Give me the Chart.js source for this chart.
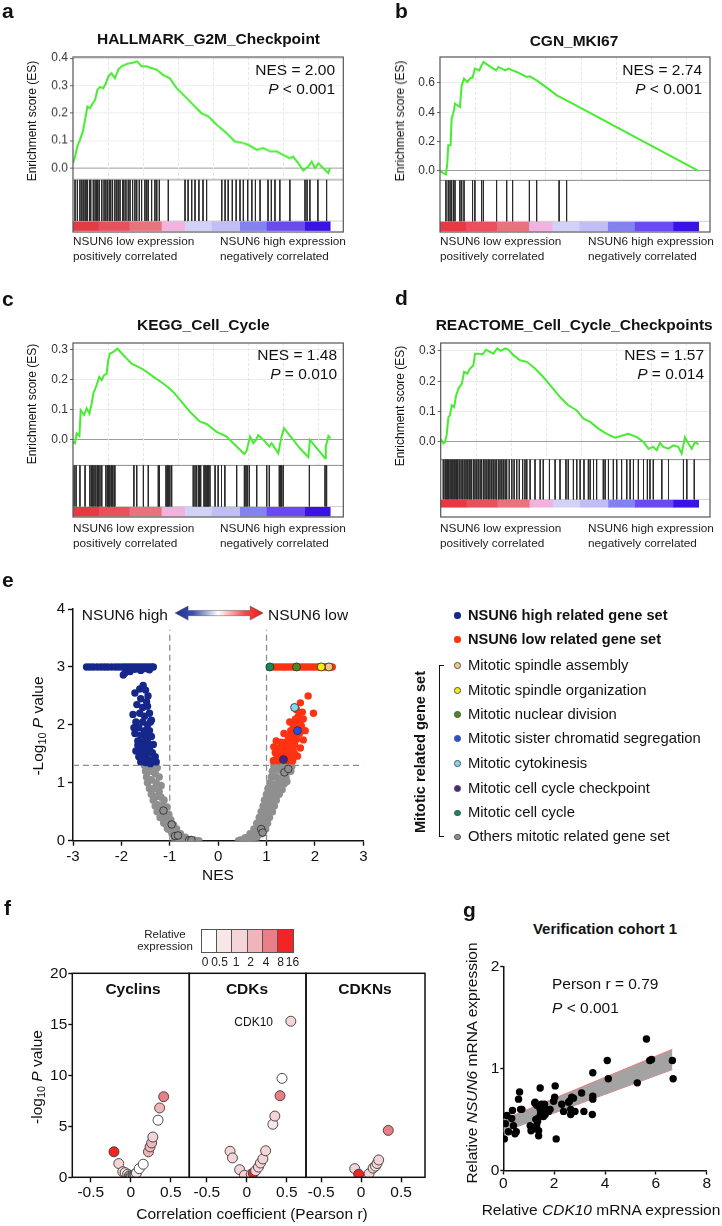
<!DOCTYPE html>
<html>
<head>
<meta charset="utf-8">
<script src="https://cdn.jsdelivr.net/npm/chart.js@4.4.0/dist/chart.umd.min.js"></script>
<style>
  body { margin: 0; width: 722px; height: 1226px; position: relative; overflow: hidden; background: #fff;
         font-family: 'Liberation Sans', Arial, Helvetica, sans-serif; color: #111; }
  canvas { position: absolute; }
  .t { position: absolute; line-height: 1; white-space: nowrap; }
  .sub { font-size: 0.7em; position: relative; top: 0.3em; }
</style>
</head>
<body>
<script>
// ---------- GSEA data (rank in % of gene list, running enrichment score) ----------
const esRankA = [0,0.8,1.7,2.7,3.8,4.7,5.6,6.6,7.7,8.6,9.5,10.5,11.8,12.8,13.7,15,16.3,17.6,18.9,20.9,23.5,25,26.7,28.7,30.6,32.6,35.1,37.7,40.3,43.6,46.8,50,52.7,55.9,59.8,63,66.3,68.2,71.5,74.1,76.7,79.2,81.8,84.4,85.7,87.7,89.6,91.6,92.9,94.2,95.5,97.4,99.4,100];
const esA = [0.018,0.042,0.079,0.103,0.133,0.176,0.224,0.218,0.236,0.248,0.285,0.295,0.291,0.309,0.333,0.345,0.327,0.358,0.370,0.379,0.384,0.388,0.370,0.370,0.364,0.358,0.339,0.327,0.291,0.261,0.230,0.2,0.188,0.158,0.127,0.097,0.091,0.085,0.067,0.073,0.061,0.061,0.048,0.036,0.042,0.018,-0.008,0.006,0.024,0,0.018,0,-0.018,0];
const hitsA = [0.8,1.7,2.7,3.4,4.0,4.7,5.1,5.6,6.4,6.9,7.9,8.6,9.2,9.6,10.2,11.2,12.1,12.8,13.4,14.1,14.7,15.4,16.3,17.0,17.6,18.3,19.3,19.8,20.6,21.5,22.2,23.2,24.1,24.8,25.8,26.7,28.0,28.7,29.3,30.6,31.9,32.6,33.6,37.1,43.6,44.8,46.2,47.5,49.0,50.6,52.0,57.9,59.2,60.4,62.0,63.5,65.0,66.3,68.0,69.6,71.0,72.8,75.9,77.2,78.6,80.5,84.4,90.3,91.1,92.2,95.3,98.7];

const esRankB = [0,1.3,2.3,2.8,3.2,4.1,4.5,5.4,5.8,7.7,8.4,9.3,10.6,11.9,12.6,13.5,15.2,16.1,16.8,18.7,21.7,22.6,25.2,26.5,28.1,29.7,33.5,34.8,37.4,41.3,45.2,49,100];
const esB = [0,-0.014,-0.023,0.05,0.175,0.175,0.357,0.414,0.459,0.436,0.584,0.63,0.607,0.636,0.636,0.698,0.686,0.72,0.743,0.72,0.686,0.709,0.686,0.698,0.686,0.675,0.641,0.645,0.618,0.568,0.516,0.482,0];
const hitsB = [2.3,3.2,3.9,4.5,5.2,5.8,7.7,8.4,9.3,12.6,13.5,16.1,16.8,21.9,25.8,28.1,34.6,37.4,46.1,49.0];

const esRankC = [0,0.8,1.4,2.5,3.0,4.3,5.3,6.4,7.3,7.9,9.2,10.2,11.2,12.1,13.1,13.7,14.4,15.7,17.3,18.5,20.9,22.8,24.8,26.7,28.7,31.3,33.2,35.1,37.1,39.0,42.3,45.5,49.4,52.0,55.9,59.8,62.4,65.0,66.7,67.6,68.9,70.2,71.2,72.1,74.1,76.4,77.3,79.9,80.5,81.2,82.1,88.3,91.6,92.2,98.1,98.4,99.4,100.3];
const esC = [-0.008,-0.013,0.02,0.011,0.097,0.081,0.103,0.086,0.12,0.153,0.181,0.208,0.197,0.214,0.219,0.264,0.286,0.291,0.302,0.291,0.269,0.252,0.244,0.236,0.225,0.208,0.197,0.186,0.173,0.158,0.125,0.092,0.059,0.051,0.025,0.009,-0.013,-0.035,-0.049,-0.038,0.009,-0.013,-0.002,0.014,-0.002,-0.024,-0.013,-0.047,-0.019,0.009,0.037,-0.03,-0.06,-0.002,-0.063,-0.024,0.011,0.003];
const hitsC = [0.4,1.2,2.7,4.7,6.6,7.3,7.7,8.2,8.9,9.5,9.9,10.5,11.2,12.8,13.4,13.7,14.1,14.4,15.0,15.4,16.0,16.3,23.7,24.8,27.4,29.3,33.2,33.6,36.2,36.7,37.1,37.7,38.4,46.8,47.5,48.1,48.8,49.2,49.7,51.0,51.4,51.8,52.3,52.7,53.3,55.3,56.5,57.8,59.1,63.7,66.7,67.3,67.8,68.6,71.5,75.4,76.4,80.3,80.8,81.2,81.8,92.0,98.1,98.7];

const esRankD = [0,1.0,1.7,2.3,3.0,3.6,4.3,5.2,6.0,6.9,8.2,9.1,10.3,11.4,12.7,13.3,14.6,16.3,17.6,19.1,20.4,22,23.3,25,26.3,28.2,30.8,33.4,36.6,39.8,43.1,46.3,49.5,52.8,55.4,58,61.2,64.4,67.7,70.9,72.8,76.1,78.7,80.6,82.5,83.8,85.1,86.4,88.4,90.3,92.2,93.5,94.8,96.1,97.4,98.7,100];
const esD = [0.011,-0.005,0,0.022,0.082,0.088,0.121,0.115,0.154,0.176,0.192,0.231,0.225,0.242,0.253,0.291,0.291,0.289,0.304,0.297,0.291,0.308,0.3,0.308,0.304,0.286,0.269,0.264,0.242,0.214,0.181,0.148,0.121,0.104,0.077,0.066,0.044,0.027,0.014,0.022,0.027,0.016,0,-0.022,-0.016,-0.027,-0.003,-0.016,-0.022,-0.011,-0.016,-0.038,0.016,-0.005,-0.022,0,-0.008];
const hitsD = [1.0,1.7,2.1,2.6,3.0,3.6,4.1,4.7,5.2,5.6,6.2,6.6,7.2,7.9,8.5,9.1,9.8,10.3,11.0,11.4,12.0,12.7,13.3,14.0,14.6,15.3,15.9,16.6,17.2,17.9,18.5,19.1,19.8,20.4,21.1,21.7,22.4,23.0,23.7,24.3,25.0,25.6,26.6,27.6,28.5,29.5,30.5,31.8,32.7,33.4,34.7,36.6,38.6,39.8,42.2,44.4,46.3,48.6,49.5,51.5,52.8,54.1,55.6,57.3,58.0,59.3,60.5,63.1,63.8,65.1,67.0,68.3,70.2,72.2,73.5,74.8,76.7,78.7,80.2,81.2,82.5,85.8,88.4,94.2,95.5,98.4];

// ranked list colour bar (segment start/end in % of list)
const cbStart = [0,10,22,34.5,43.6,54,65,75.4,90.3];
const cbEnd   = [10,22,34.5,43.6,54,65,75.4,90.3,100];
const cbColor = ['#e53a42','#e9505b','#e9737c','#f2b2e0','#d2d2f9','#c1bef7','#8282f2','#6a4af0','#3a12e4'];

// ---------- volcano (NES, -log10 P) ----------
const volcanoHigh = [[-2.72,3],[-2.65,3],[-2.58,3],[-2.5,3],[-2.42,3],[-2.35,3],[-2.28,3],[-2.2,3],[-2.12,3],[-2.05,3],[-1.98,3],[-1.92,3],[-1.86,3],[-1.8,3],[-1.74,3],[-1.68,3],[-1.62,3],[-1.56,3],[-1.5,3],[-1.44,3],[-1.38,3],[-1.34,3],
  [-1.96,2.86],[-1.92,2.9],[-1.82,2.92],[-1.72,2.96],[-1.6,2.94],[-1.5,2.97],[-1.42,2.95],
  [-1.72,2.55],[-1.62,2.62],[-1.55,2.68],[-1.5,2.6],[-1.45,2.5],[-1.6,2.45],[-1.68,2.35],[-1.56,2.3],[-1.46,2.32],[-1.76,2.18],[-1.62,2.2],[-1.52,2.15],[-1.42,2.2],[-1.7,2.05],[-1.56,2.05],[-1.46,2.0],[-1.38,2.08],[-1.64,1.95],[-1.52,1.9],[-1.42,1.9],[-1.72,1.85],[-1.6,1.82],[-1.5,1.8],[-1.38,1.8],[-1.66,1.72],[-1.56,1.7],[-1.46,1.7],[-1.34,1.66],[-1.62,1.6],[-1.52,1.62],[-1.42,1.58],[-1.7,1.55],[-1.58,1.5],[-1.48,1.5],[-1.36,1.52],[-1.64,1.45],[-1.52,1.42],[-1.42,1.4],[-1.3,1.45],[-1.6,1.36],[-1.5,1.35],[-1.4,1.33],[-1.28,1.36],[-1.48,2.4],[-1.4,2.05],[-1.66,1.65],[-1.54,1.56],[-1.44,1.62],[-1.34,1.4],[-1.74,1.95],[-1.48,1.75],[-1.58,1.42]];
const volcanoLow = [[1.16,3],[1.22,3],[1.28,3],[1.34,3],[1.4,3],[1.46,3],[1.52,3],[1.58,3],[1.7,3],[1.76,3],[1.82,3],[1.88,3],[1.94,3],[2.0,3],[2.06,3],[2.1,3],[2.18,3],[2.22,3],[2.26,3],[2.32,3],[2.36,3],
  [1.86,2.5],[1.97,2.2],[1.7,2.38],[1.62,2.26],[1.66,2.15],[1.74,2.22],[1.6,2.1],[1.68,2.04],[1.76,2.1],[1.55,2.0],[1.65,1.95],[1.72,1.98],[1.5,1.9],[1.58,1.86],[1.68,1.85],[1.45,1.8],[1.55,1.78],[1.62,1.75],[1.2,1.72],[1.3,1.7],[1.4,1.7],[1.5,1.68],[1.58,1.66],[1.15,1.62],[1.25,1.6],[1.35,1.62],[1.45,1.6],[1.55,1.58],[1.18,1.52],[1.28,1.55],[1.38,1.52],[1.48,1.5],[1.58,1.5],[1.22,1.45],[1.32,1.45],[1.42,1.46],[1.52,1.42],[1.14,1.38],[1.24,1.38],[1.44,1.38],[1.54,1.38],[1.64,1.46],[1.7,1.6],[1.76,1.74],[1.8,1.9],[1.36,1.85],[1.48,2.05]];
const volcanoNS = [[-1.52,1.3],[-1.42,1.3],[-1.32,1.3],[-1.26,1.26],[-1.5,1.2],[-1.4,1.2],[-1.3,1.16],[-1.22,1.1],[-1.48,1.1],[-1.38,1.05],[-1.28,1.0],[-1.18,0.95],[-1.46,1.0],[-1.42,0.9],[-1.32,0.9],[-1.22,0.85],[-1.38,0.8],[-1.28,0.76],[-1.18,0.75],[-1.12,0.7],[-1.34,0.7],[-1.25,0.62],[-1.15,0.6],[-1.06,0.58],[-1.3,0.6],[-1.22,0.52],[-1.12,0.48],[-1.02,0.45],[-1.26,0.5],[-1.18,0.42],[-1.08,0.38],[-0.98,0.36],[-1.2,0.4],[-1.12,0.32],[-1.02,0.28],[-0.92,0.27],[-1.12,0.3],[-1.05,0.22],[-0.95,0.2],[-0.86,0.2],[-1.04,0.2],[-0.96,0.15],[-0.88,0.13],[-0.78,0.12],[-0.95,0.12],[-0.86,0.08],[-0.76,0.06],[-0.68,0.06],[-0.84,0.06],[-0.74,0.03],[-0.64,0.02],[-0.56,0.02],[-0.5,0.01],[-0.44,0.0],[-0.4,0.0],[-0.6,0.01],[-0.7,0.01],[-0.8,0.02],[-0.9,0.04],
  [1.15,1.3],[1.25,1.32],[1.35,1.3],[1.45,1.3],[1.52,1.28],[1.12,1.2],[1.22,1.22],[1.32,1.2],[1.42,1.18],[1.5,1.2],[1.1,1.1],[1.2,1.1],[1.3,1.08],[1.4,1.1],[1.07,1.0],[1.16,0.98],[1.26,1.0],[1.36,0.98],[1.42,1.02],[1.03,0.9],[1.12,0.88],[1.22,0.9],[1.32,0.88],[1.0,0.8],[1.08,0.78],[1.18,0.78],[1.26,0.8],[0.96,0.7],[1.04,0.68],[1.14,0.68],[1.2,0.7],[0.93,0.6],[1.0,0.58],[1.1,0.58],[1.16,0.6],[0.89,0.5],[0.96,0.48],[1.05,0.48],[1.12,0.5],[0.85,0.4],[0.92,0.38],[1.0,0.38],[1.06,0.4],[0.8,0.3],[0.88,0.28],[0.96,0.28],[1.02,0.3],[0.74,0.2],[0.82,0.18],[0.9,0.18],[0.98,0.2],[0.66,0.12],[0.74,0.1],[0.82,0.1],[0.9,0.12],[0.56,0.05],[0.64,0.04],[0.72,0.04],[0.8,0.06],[0.46,0.01],[0.52,0.01],[0.6,0.01],[0.68,0.02],[0.42,0.0]];
const volcanoOthers = [[-1.13,0.52],[-0.96,0.28],[-0.89,0.08],[-0.83,0.09],[-0.6,0.01],[-0.55,0.01],[0.89,0.2],[0.92,0.14],[1.37,1.18],[1.45,1.24]];
const mitoticSets = ['Mitotic spindle assembly','Mitotic spindle organization','Mitotic nuclear division','Mitotic sister chromatid segregation','Mitotic cytokinesis','Mitotic cell cycle checkpoint','Mitotic cell cycle'];
const mitoticNES  = [2.29, 2.13, 1.62, 1.64, 1.58, 1.35, 1.07];
const mitoticLogP = [3.0, 3.0, 3.0, 1.9, 2.3, 1.4, 3.0];
const nesCut = [-1, 1];
const logPCut = 1.3;

// ---------- cyclins / CDKs / CDKNs (Pearson r, -log10 P, expression bin) ----------
const exprBins = ['0','0.5','1','2','4','8','16'];
const cycR = [-0.21,-0.15,-0.1,-0.07,-0.04,-0.02,-0.01,0.0,0.01,0.03,0.04,0.055,0.07,0.105,0.155,0.22,0.24,0.26,0.275,0.36,0.34,0.41];
const cycP = [2.5,1.35,0.55,0.45,0.3,0.15,0.1,0.02,0.05,0.2,0.12,0.3,0.42,0.85,1.28,2.5,2.98,3.37,3.95,6.8,5.6,7.9];
const cycE = [5,2,2,1,1,1,0,1,1,2,1,1,1,0,0,3,3,3,2,3,0,4];
const cdkR = [-0.21,-0.18,-0.09,-0.03,0.055,0.08,0.11,0.145,0.17,0.2,0.235,0.325,0.35,0.415,0.44,0.55];
const cdkP = [2.55,1.9,0.75,0.2,0.3,0.4,0.65,1.0,1.4,1.8,2.6,5.2,6.0,8.0,9.7,15.3];
const cdkE = [2,2,2,2,2,5,2,2,2,2,2,1,2,4,0,2];
const cdknR = [-0.08,-0.03,0.1,0.15,0.18,0.2,0.22,0.34];
const cdknP = [0.85,0.3,0.35,0.9,1.1,1.35,1.7,4.6];
const cdknE = [2,5,2,2,1,2,2,4];

// ---------- verification cohort (relative CDK10, relative NSUN6) ----------
const cohortPts = [[0.04,0.31],[0.08,0.46],[0.14,0.54],[0.2,0.38],[0.33,0.51],[0.36,0.59],[0.4,0.44],[0.51,0.38],[0.46,0.36],[0.6,0.70],[0.64,0.77],[0.73,0.6],[0.68,0.6],[1.06,0.44],[1.09,0.39],[1.19,0.41],[1.25,0.67],[1.24,0.66],[1.28,0.5],[1.31,0.44],[1.32,0.64],[1.35,0.48],[1.36,0.51],[1.39,0.34],[1.39,0.39],[1.45,0.81],[1.45,0.6],[1.5,0.65],[1.46,0.55],[1.52,0.64],[1.56,0.58],[1.58,0.53],[1.62,0.65],[1.65,0.55],[1.71,0.6],[1.78,0.58],[1.84,0.6],[2.04,0.83],[1.98,0.68],[2.02,0.72],[2.08,0.31],[2.3,0.65],[2.37,0.58],[2.57,0.67],[2.6,0.68],[2.65,0.6],[2.65,0.55],[2.69,0.72],[2.76,0.71],[2.82,0.58],[3.08,0.76],[3.17,0.58],[3.52,0.96],[3.52,0.73],[3.52,0.7],[3.5,0.55],[4.09,1.08],[4.13,0.9],[5.27,0.86],[5.63,1.29],[5.76,1.08],[5.83,1.09],[6.65,1.08],[6.68,0.9]];
const bandX = [0, 6.65];
const bandUpper = [0.50, 1.19];
const bandLower = [0.38, 0.99];

// ---------- styles ----------
const exprColors = ['#ffffff','#f9e7e7','#f5d4d7','#f0b5bb','#eb7d86','#f42424'];
const mitoticColors = ['#f5c77e','#f2ee10','#4c8a1e','#1f4fe6','#86d3f0','#4b2183','#138a58'];
const HIGH = '#15278b', LOW = '#ff3212', NS = '#8f8f8f';
const gseaGridX = [13.6, 27.2, 40.8, 54.4, 68, 81.6, 95.2];

// ---------- helpers ----------
function mkCanvas(x, y, w, h) {
  const c = document.createElement('canvas');
  c.width = w; c.height = h;
  c.style.left = x + 'px'; c.style.top = y + 'px';
  c.style.width = w + 'px'; c.style.height = h + 'px';
  document.body.appendChild(c);
  return c;
}
function txt(html, x, base, size, o = {}) {
  const d = document.createElement('div');
  d.className = 't';
  d.innerHTML = html;
  d.style.fontSize = size + 'px';
  if (o.bold) d.style.fontWeight = 'bold';
  if (o.color) d.style.color = o.color;
  d.style.left = x + 'px';
  d.style.top = (base - 0.8465 * size) + 'px';
  if (o.align === 'center') d.style.transform = 'translateX(-50%)';
  if (o.align === 'right') d.style.transform = 'translateX(-100%)';
  document.body.appendChild(d);
  return d;
}
function vtxt(html, cx, cy, size, o = {}) {
  const d = document.createElement('div');
  d.className = 't';
  d.innerHTML = html;
  d.style.fontSize = size + 'px';
  if (o.bold) d.style.fontWeight = 'bold';
  d.style.left = cx + 'px'; d.style.top = cy + 'px';
  d.style.transform = 'translate(-50%,-50%) rotate(-90deg)';
  document.body.appendChild(d);
}
function box(x, y, w, h, css) {
  const d = document.createElement('div');
  d.style.position = 'absolute';
  d.style.left = x + 'px'; d.style.top = y + 'px';
  d.style.width = w + 'px'; d.style.height = h + 'px';
  d.style.boxSizing = 'border-box';
  Object.assign(d.style, css);
  document.body.appendChild(d);
}
// canvas rect cv = [x,y,w,h], chart area = [l,t,r,b] in page pixels
function fixed(cv, area) {
  return {
    yW: area[0] - cv[0],
    xH: cv[1] + cv[3] - area[3],
    padL: area[0] - cv[0],
    padT: area[1] - cv[1],
    padR: cv[0] + cv[2] - area[2],
    padB: cv[1] + cv[3] - area[3]
  };
}
const ticksAt = vals => axis => { axis.ticks = vals.map(v => ({ value: v })); };
const base = { responsive: false, animation: false, devicePixelRatio: 1, events: [] };
const noLegend = { legend: { display: false }, tooltip: { enabled: false } };

function gpAxis(min, max, vals, size, fit, tickLen, pad) {
  return {
    min, max, afterBuildTicks: ticksAt(vals), afterFit: fit,
    ticks: { font: { size }, color: '#111', padding: pad, autoSkip: false, maxRotation: 0, callback: v => String(v) },
    grid: { drawOnChartArea: false, drawTicks: true, tickLength: tickLen, tickWidth: 1.4, tickColor: '#111' },
    border: { display: true, color: '#111', width: 1.5 }
  };
}

const boxFrame = {
  id: 'boxFrame',
  afterDraw(chart, args, o) {
    const { ctx, chartArea: a } = chart;
    ctx.save();
    ctx.strokeStyle = o.color || '#111';
    ctx.lineWidth = o.width || 1.5;
    ctx.strokeRect(a.left, a.top, a.width, a.height);
    ctx.restore();
  }
};

const gseaDecor = {
  id: 'gseaDecor',
  beforeDatasetsDraw(chart, args, o) {
    const { ctx, chartArea: a, scales: { x, y } } = chart;
    const yb = y.getPixelForValue(o.esBottom);
    const yt = y.getPixelForValue(o.cbTop);
    const yc = y.getPixelForValue(o.cbBot);
    ctx.save();
    ctx.lineWidth = 1;
    ctx.strokeStyle = '#e6e6e6';
    ctx.setLineDash([3, 2]);
    gseaGridX.forEach(v => {
      const px = Math.round(x.getPixelForValue(v)) + 0.5;
      ctx.beginPath(); ctx.moveTo(px, a.top); ctx.lineTo(px, yb); ctx.stroke();
    });
    ctx.setLineDash([]);
    cbStart.forEach((s, i) => {
      const x0 = x.getPixelForValue(s), x1 = x.getPixelForValue(cbEnd[i]);
      ctx.fillStyle = cbColor[i];
      ctx.fillRect(x0, yt, x1 - x0 + 0.6, yc - yt);
    });
    ctx.strokeStyle = '#8a8a8a';
    ctx.beginPath(); ctx.moveTo(a.left, yb); ctx.lineTo(a.right, yb); ctx.stroke();
    ctx.strokeStyle = '#d0d0d0';
    ctx.beginPath(); ctx.moveTo(a.left, yt); ctx.lineTo(a.right, yt); ctx.stroke();
    ctx.restore();
  }
};

const nesArrow = {
  id: 'nesArrow',
  afterDatasetsDraw(chart, args, o) {
    const { ctx, scales: { x, y } } = chart;
    const x0 = x.getPixelForValue(o.from), x1 = x.getPixelForValue(o.to);
    const xm = x.getPixelForValue(0), yc = y.getPixelForValue(o.at);
    const hl = 13, hh = 7, sh = 2.6;
    const g = ctx.createLinearGradient(x0, 0, x1, 0);
    g.addColorStop(0, '#1b2f95');
    g.addColorStop(0.2, '#3a4fae');
    g.addColorStop((xm - x0) / (x1 - x0), '#ffffff');
    g.addColorStop(0.8, '#f24848');
    g.addColorStop(1, '#f01818');
    ctx.save();
    ctx.beginPath();
    ctx.moveTo(x0, yc); ctx.lineTo(x0 + hl, yc - hh); ctx.lineTo(x0 + hl, yc - sh);
    ctx.lineTo(x1 - hl, yc - sh); ctx.lineTo(x1 - hl, yc - hh); ctx.lineTo(x1, yc);
    ctx.lineTo(x1 - hl, yc + hh); ctx.lineTo(x1 - hl, yc + sh); ctx.lineTo(x0 + hl, yc + sh);
    ctx.lineTo(x0 + hl, yc + hh); ctx.closePath();
    ctx.fillStyle = g; ctx.fill();
    ctx.strokeStyle = 'rgba(70,70,70,0.55)'; ctx.lineWidth = 0.8; ctx.stroke();
    ctx.restore();
  }
};

// ---------- panels a-d: GSEA ----------
const gseaPanels = [
  { rank: esRankA, es: esA, hits: hitsA, cx: 0, area: [73, 57.3, 343.3, 231.7], yMin: -0.232, yMax: 0.404, xMax: 105.2,
    ticks: [0, 0.1, 0.2, 0.3, 0.4], esBottom: -0.042, cbTop: -0.192, cbBot: -0.228,
    title: 'HALLMARK_G2M_Checkpoint', tX: 208.5, tB: 44.5, nes: 'NES = 2.00', p: '<i>P</i> &lt; 0.001', nR: 335, nB: 75.5,
    lL: 73, lR: 220, lB: 246, yt: [32, 121] },
  { rank: esRankB, es: esB, hits: hitsB, cx: 360, area: [440, 56.7, 710, 231.7], yMin: -0.416, yMax: 0.777, xMax: 104.5,
    ticks: [0, 0.2, 0.4, 0.6], esBottom: -0.064, cbTop: -0.343, cbBot: -0.411,
    title: 'CGN_MKI67', tX: 574, tB: 46, nes: 'NES = 2.74', p: '<i>P</i> &lt; 0.001', nR: 702, nB: 75.5,
    lL: 440, lR: 588, lB: 246, yt: [400, 121] },
  { rank: esRankC, es: esC, hits: hitsC, cx: 0, area: [73, 342.7, 343.3, 517.3], yMin: -0.259, yMax: 0.321, xMax: 105.2,
    ticks: [0, 0.1, 0.2, 0.3], esBottom: -0.087, cbTop: -0.224, cbBot: -0.257,
    title: 'KEGG_Cell_Cycle', tX: 203.3, tB: 330, nes: 'NES = 1.48', p: '<i>P</i> = 0.010', nR: 337, nB: 360.5,
    lL: 73, lR: 220, lB: 533, yt: [32, 404] },
  { rank: esRankD, es: esD, hits: hitsD, cx: 360, area: [440.7, 342.7, 710, 516.7], yMin: -0.247, yMax: 0.326, xMax: 104.5,
    ticks: [0, 0.1, 0.2, 0.3], esBottom: -0.058, cbTop: -0.189, cbBot: -0.216,
    title: 'REACTOME_Cell_Cycle_Checkpoints', tX: 574.2, tB: 330.5, nes: 'NES = 1.57', p: '<i>P</i> = 0.014', nR: 704, nB: 360.5,
    lL: 440, lR: 588, lB: 533, yt: [400, 406] }
];

gseaPanels.forEach(p => {
  const cv = [p.cx, p.area[1] - 12, 360, p.area[3] - p.area[1] + 24];
  const f = fixed(cv, p.area);
  const hitLines = [];
  p.hits.forEach(h => { hitLines.push({ x: h, y: p.esBottom }, { x: h, y: p.cbTop }, { x: h, y: null }); });
  new Chart(mkCanvas(...cv), {
    type: 'scatter',
    data: {
      datasets: [
        { data: p.rank.map((r, i) => ({ x: r, y: p.es[i] })), showLine: true, borderColor: '#46ec30', borderWidth: 2,
          pointRadius: 0, order: 0 },
        { data: hitLines, showLine: true, spanGaps: false, borderColor: '#2a2a2a', borderWidth: 1, pointRadius: 0, order: 1 }
      ]
    },
    options: {
      ...base,
      layout: { padding: { left: 0, top: f.padT, right: f.padR, bottom: f.padB } },
      scales: {
        x: { display: false, min: 0, max: p.xMax },
        y: {
          min: p.yMin, max: p.yMax, afterBuildTicks: ticksAt(p.ticks), afterFit: s => { s.width = f.yW; },
          ticks: { font: { size: 12 }, color: '#333', padding: 2, autoSkip: false, callback: v => Number(v).toFixed(1) },
          grid: { color: c => (c.tick && c.tick.value === 0) ? '#9c9c9c' : '#ececec', tickLength: 3, tickColor: '#666' },
          border: { display: false }
        }
      },
      plugins: { ...noLegend, gseaDecor: { esBottom: p.esBottom, cbTop: p.cbTop, cbBot: p.cbBot },
                 boxFrame: { color: '#555', width: 1.2 } }
    },
    plugins: [gseaDecor, boxFrame]
  });
  txt(p.title, p.tX, p.tB, 15.5, { bold: true, align: 'center' });
  txt(p.nes, p.nR, p.nB, 15.5, { align: 'right' });
  txt(p.p, p.nR, p.nB + 18.5, 15.5, { align: 'right' });
  txt('NSUN6 low expression', p.lL, p.lB, 11.8, { color: '#222' });
  txt('positively correlated', p.lL, p.lB + 14.5, 11.8, { color: '#222' });
  txt('NSUN6 high expression', p.lR, p.lB, 11.8, { color: '#222' });
  txt('negatively correlated', p.lR, p.lB + 14.5, 11.8, { color: '#222' });
  vtxt('Enrichment score (ES)', p.yt[0], p.yt[1], 12);
});

// ---------- panel e: volcano ----------
(function () {
  const area = [73, 609, 363.3, 840.7];
  const cv = [0, 596, 378, 272];
  const f = fixed(cv, area);
  const pts = arr => arr.map(([x, y]) => ({ x, y }));
  const cutLines = nesCut.map(v => ({ data: [{ x: v, y: 0 }, { x: v, y: 3.64 }], showLine: true, pointRadius: 0,
    borderColor: '#8c8c8c', borderWidth: 1.3, borderDash: [6, 4], order: 9 }));
  new Chart(mkCanvas(...cv), {
    type: 'scatter',
    data: {
      datasets: [
        ...cutLines,
        { data: [{ x: -3, y: logPCut }, { x: 3, y: logPCut }], showLine: true, pointRadius: 0,
          borderColor: '#8c8c8c', borderWidth: 1.3, borderDash: [6, 4], order: 9 },
        { data: pts(volcanoNS), pointRadius: 3.8, pointBackgroundColor: NS, pointBorderWidth: 0, order: 6 },
        { data: pts(volcanoOthers), pointRadius: 3.8, pointBackgroundColor: NS, pointBorderColor: '#333', pointBorderWidth: 0.9, order: 5 },
        { data: pts(volcanoHigh), pointRadius: 3.7, pointBackgroundColor: HIGH, pointBorderWidth: 0, order: 4 },
        { data: pts(volcanoLow), pointRadius: 3.7, pointBackgroundColor: LOW, pointBorderWidth: 0, order: 4 },
        { data: mitoticNES.map((v, i) => ({ x: v, y: mitoticLogP[i] })), pointRadius: 4, pointBackgroundColor: mitoticColors,
          pointBorderColor: '#333', pointBorderWidth: 0.9, order: 1 }
      ]
    },
    options: {
      ...base,
      layout: { padding: { left: 0, top: f.padT, right: f.padR, bottom: 0 } },
      scales: {
        x: gpAxis(-3, 3, [-3, -2, -1, 0, 1, 2, 3], 15, s => { s.height = f.xH; }, 5, 2),
        y: gpAxis(0, 4, [0, 1, 2, 3, 4], 15, s => { s.width = f.yW; }, 5, 3)
      },
      plugins: { ...noLegend, nesArrow: { from: -0.89, to: 0.93, at: 3.93 } }
    },
    plugins: [nesArrow]
  });
  txt('NSUN6 high', 168, 620, 15.5, { align: 'right' });
  txt('NSUN6 low', 268, 620, 15.5);
  txt('NES', 218, 880, 15.5, { align: 'center' });
  vtxt('-Log<span class="sub">10</span> <i>P</i> value', 38, 726, 15.5);

  // legend
  const rows = [615, 639.3, 665, 690, 714, 738, 763.3, 788.3, 812.7, 836.7];
  const names = ['NSUN6 high related gene set', 'NSUN6 low related gene set', ...mitoticSets, 'Others mitotic related gene set'];
  const dots = [HIGH, LOW, ...mitoticColors, NS];
  names.forEach((n, i) => {
    const bold = i < 2;
    box(454, rows[i] - 3, 6.5, 6.5, { borderRadius: '50%', background: dots[i],
      border: bold ? 'none' : '0.8px solid #555' });
    txt(n, 468, rows[i] + 5.3, bold ? 14.6 : 14.8, { bold });
  });
  box(439, 665, 5, 172, { borderLeft: '1.5px solid #111', borderTop: '1.5px solid #111', borderBottom: '1.5px solid #111' });
  vtxt('Mitotic related gene set', 420, 752, 14.6, { bold: true });
})();

// ---------- panel f: cyclins / CDKs / CDKNs ----------
(function () {
  const cv = [0, 962, 440, 246];
  const facets = [
    { r: cycR, p: cycP, e: cycE, area: [72.3, 973.3, 189.3, 1177.3], min: -0.73, max: 0.73, name: 'Cyclins', nx: 133 },
    { r: cdkR, p: cdkP, e: cdkE, area: [189.3, 973.3, 306, 1177.3], min: -0.72, max: 0.74, name: 'CDKs', nx: 247 },
    { r: cdknR, p: cdknP, e: cdknE, area: [306, 973.3, 425, 1177.3], min: -0.69, max: 0.8, name: 'CDKNs', nx: 365 }
  ];
  facets.forEach((fc, k) => {
    const f = fixed(cv, fc.area);
    const yAxis = k === 0
      ? gpAxis(0, 20, [0, 5, 10, 15, 20], 15.5, s => { s.width = f.yW; }, 4, 1)
      : { display: false, min: 0, max: 20 };
    const xAxis = gpAxis(fc.min, fc.max, [-0.5, 0, 0.5], 15.5, s => { s.height = f.xH; }, 5, 1);
    xAxis.border = { display: false };
    if (k === 0) yAxis.border = { display: false };
    new Chart(mkCanvas(...cv), {
      type: 'scatter',
      data: {
        datasets: [{ data: fc.r.map((v, i) => ({ x: v, y: fc.p[i] })), pointRadius: 5,
          pointBackgroundColor: fc.e.map(b => exprColors[b]), pointBorderColor: '#3a3a3a', pointBorderWidth: 0.9 }]
      },
      options: {
        ...base,
        layout: { padding: { left: k === 0 ? 0 : f.padL, top: f.padT, right: f.padR, bottom: 0 } },
        scales: { x: xAxis, y: yAxis },
        plugins: { ...noLegend, boxFrame: { color: '#111', width: 1.5 } }
      },
      plugins: [boxFrame]
    });
    txt(fc.name, fc.nx, 994, 15.5, { bold: true, align: 'center' });
  });
  txt('CDK10', 273, 1026, 12, { align: 'right' });
  vtxt('-log<span class="sub">10</span> <i>P</i> value', 37, 1077, 15.5);
  txt('Correlation coefficient (Pearson r)', 252, 1219.5, 15.5, { align: 'center' });

  // expression colour key
  txt('Relative', 165, 939, 11.5, { align: 'center', color: '#222' });
  txt('expression', 165, 951, 11.5, { align: 'center', color: '#222' });
  const w = (292.7 - 200.7) / exprColors.length;
  exprColors.forEach((c, i) => {
    box(200.7 + i * w, 929, w + 1, 23.5, { background: c, border: '1px solid #555' });
  });
  const keyX = [205, 219.5, 236, 250.5, 266, 280.5, 292.5];
  exprBins.forEach((b, i) => txt(b, keyX[i], 966.5, 12, { align: 'center', color: '#222' }));
})();

// ---------- panel g: verification cohort ----------
(function () {
  const area = [503.3, 966.7, 706.7, 1170.5];
  const cv = [476, 955, 244, 240];
  const f = fixed(cv, area);
  new Chart(mkCanvas(...cv), {
    type: 'scatter',
    data: {
      datasets: [
        { data: cohortPts.map(([x, y]) => ({ x, y })), pointRadius: 3.7, pointBackgroundColor: '#000', pointBorderWidth: 0, order: 0 },
        { data: bandX.map((x, i) => ({ x, y: bandUpper[i] })), showLine: true, pointRadius: 0, borderColor: '#f07a7a',
          borderWidth: 1, fill: '+1', backgroundColor: '#a3a3a3', order: 2 },
        { data: bandX.map((x, i) => ({ x, y: bandLower[i] })), showLine: true, pointRadius: 0, borderColor: '#f07a7a',
          borderWidth: 1, order: 2 }
      ]
    },
    options: {
      ...base,
      layout: { padding: { left: 0, top: f.padT, right: f.padR, bottom: 0 } },
      scales: {
        x: gpAxis(0, 8, [0, 2, 4, 6, 8], 15.5, s => { s.height = f.xH; }, 4, 0),
        y: gpAxis(0, 2, [0, 1, 2], 15.5, s => { s.width = f.yW; }, 3, 1)
      },
      plugins: { ...noLegend }
    }
  });
  txt('Verification cohort 1', 605, 934, 15, { bold: true, align: 'center' });
  txt('Person r = 0.79', 552, 989, 15.5);
  txt('<i>P</i> &lt; 0.001', 552, 1013, 15.5);
  vtxt('Relative <i>NSUN6</i> mRNA expression', 472, 1063, 15.5);
  txt('Relative <i>CDK10</i> mRNA expression', 601, 1215, 15.5, { align: 'center' });
})();

// ---------- panel letters ----------
[['a', 2, 18], ['b', 395, 18], ['c', 2, 306], ['d', 395, 305], ['e', 2, 587], ['f', 4, 915], ['g', 463, 917]]
  .forEach(([l, x, b]) => txt(l, x, b, 21, { bold: true }));
</script>
</body>
</html>
